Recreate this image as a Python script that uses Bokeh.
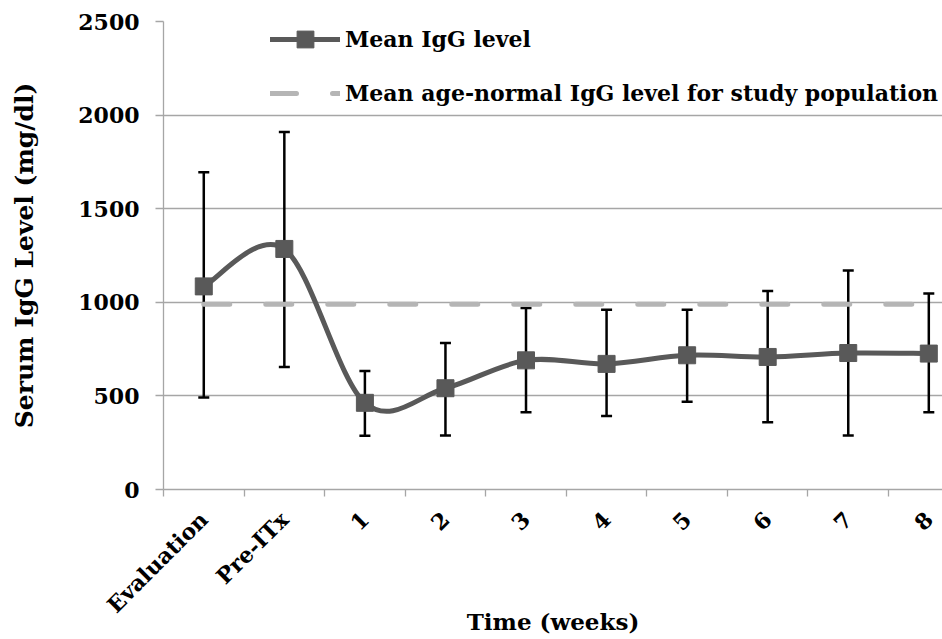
from bokeh.plotting import figure
from bokeh.models import (ColumnDataSource, Whisker, TeeHead, FixedTicker,
                          Legend, LegendItem, Range1d)
from bokeh.embed import file_html
from bokeh.resources import INLINE

# ---------------- data ----------------
categories = ["Evaluation", "Pre-ITx", "1", "2", "3", "4", "5", "6", "7", "8"]
mean_igg = [1085, 1285, 463, 541, 690, 671, 717, 708, 729, 726]
err_upper = [1695, 1910, 633, 783, 969, 960, 960, 1060, 1170, 1047]
err_lower = [491, 654, 287, 289, 413, 392, 469, 359, 289, 413]
age_normal = [990, 990, 990, 990, 990, 990, 990, 990, 990, 990]
y_ticks = [0, 500, 1000, 1500, 2000, 2500]

FONT = "DejaVu Serif"
GRID = "#a6a6a6"
DARK = "#595959"

n = len(categories)
xs = list(range(n))

# smoothed line (Catmull-Rom -> cubic Bezier control points, like a spreadsheet "smoothed line")
bx0, by0, bx1, by1, bcx0, bcy0, bcx1, bcy1 = [], [], [], [], [], [], [], []
for i in range(n - 1):
    ip = i - 1 if i > 0 else i
    inx = i + 2 if i + 2 < n else i + 1
    bx0.append(xs[i]); by0.append(mean_igg[i])
    bx1.append(xs[i + 1]); by1.append(mean_igg[i + 1])
    bcx0.append(xs[i] + (xs[i + 1] - xs[ip]) / 6.0)
    bcy0.append(mean_igg[i] + (mean_igg[i + 1] - mean_igg[ip]) / 6.0)
    bcx1.append(xs[i + 1] - (xs[inx] - xs[i]) / 6.0)
    bcy1.append(mean_igg[i + 1] - (mean_igg[inx] - mean_igg[i]) / 6.0)

p = figure(width=942, height=639,
           x_range=Range1d(-0.5, 9.17), y_range=Range1d(0, 2500),
           output_backend="svg", toolbar_location=None,
           min_border_left=163, min_border_right=0,
           min_border_top=21, min_border_bottom=150)
p.outline_line_color = None
p.background_fill_color = "white"
p.border_fill_color = "white"

# grid
p.xgrid.visible = False
p.ygrid.ticker = FixedTicker(ticks=y_ticks)
p.ygrid.grid_line_color = GRID
p.ygrid.grid_line_width = 1.3

# y axis
p.yaxis.ticker = FixedTicker(ticks=y_ticks)
p.yaxis.axis_line_color = GRID
p.yaxis.axis_line_width = 1.3
p.yaxis.major_tick_line_color = GRID
p.yaxis.major_tick_line_width = 1.3
p.yaxis.major_tick_out = 8
p.yaxis.major_tick_in = 0
p.yaxis.minor_tick_line_color = None
p.yaxis.major_label_text_font = FONT
p.yaxis.major_label_text_font_style = "bold"
p.yaxis.major_label_text_font_size = "22px"
p.yaxis.major_label_text_color = "black"
p.yaxis.major_label_standoff = 16
p.yaxis.axis_label = "Serum IgG Level (mg/dl)"
p.yaxis.axis_label_text_font = FONT
p.yaxis.axis_label_text_font_style = "bold"
p.yaxis.axis_label_text_font_size = "25px"
p.yaxis.axis_label_text_color = "black"
p.yaxis.axis_label_standoff = 36

# x axis: labels at category centres, tick marks between categories
p.xaxis.ticker = FixedTicker(ticks=xs, minor_ticks=[x - 0.5 for x in xs])
p.xaxis.major_label_overrides = {x: c for x, c in zip(xs, categories)}
p.xaxis.axis_line_color = GRID
p.xaxis.axis_line_width = 1.3
p.xaxis.major_tick_line_color = None
p.xaxis.major_tick_out = 0
p.xaxis.major_tick_in = 0
p.xaxis.minor_tick_line_color = GRID
p.xaxis.minor_tick_line_width = 1.3
p.xaxis.minor_tick_out = 7
p.xaxis.minor_tick_in = 0
p.xaxis.major_label_orientation = 0.785398
p.xaxis.major_label_text_font = FONT
p.xaxis.major_label_text_font_style = "bold"
p.xaxis.major_label_text_font_size = "22px"
p.xaxis.major_label_text_color = "black"
p.xaxis.major_label_standoff = 19
p.xaxis.axis_label = "Time (weeks)"
p.xaxis.axis_label_text_font = FONT
p.xaxis.axis_label_text_font_style = "bold"
p.xaxis.axis_label_text_font_size = "23px"
p.xaxis.axis_label_text_color = "black"
p.xaxis.axis_label_standoff = -22

# series
dash_r = p.line(xs, age_normal, line_color="#b5b5b5", line_width=5,
                line_dash="26 36", line_cap="round")
curve_r = p.bezier(x0=bx0, y0=by0, x1=bx1, y1=by1,
                   cx0=bcx0, cy0=bcy0, cx1=bcx1, cy1=bcy1,
                   line_color=DARK, line_width=5, line_cap="round")
sq_r = p.scatter(xs, mean_igg, marker="square", size=17,
                 fill_color=DARK, line_color=DARK)

src = ColumnDataSource(dict(x=xs, upper=err_upper, lower=err_lower))
whisk = Whisker(base="x", upper="upper", lower="lower", source=src,
                dimension="height", line_color="black", line_width=2.5,
                upper_head=TeeHead(size=11, line_color="black", line_width=2.5),
                lower_head=TeeHead(size=11, line_color="black", line_width=2.5))
p.add_layout(whisk)

legend = Legend(items=[
    LegendItem(label="Mean IgG level", renderers=[curve_r, sq_r]),
    LegendItem(label="Mean age-normal IgG level for study population", renderers=[dash_r]),
], location=(107, 375))
legend.padding = 0
legend.margin = 0
legend.spacing = 12
legend.glyph_width = 70
legend.glyph_height = 42
legend.label_height = 42
legend.label_standoff = 5
legend.border_line_color = None
legend.background_fill_alpha = 0
legend.label_text_font = FONT
legend.label_text_font_style = "bold"
legend.label_text_font_size = "22px"
legend.label_text_color = "black"
p.add_layout(legend)

open("out.html", "w").write(file_html(p, INLINE))
